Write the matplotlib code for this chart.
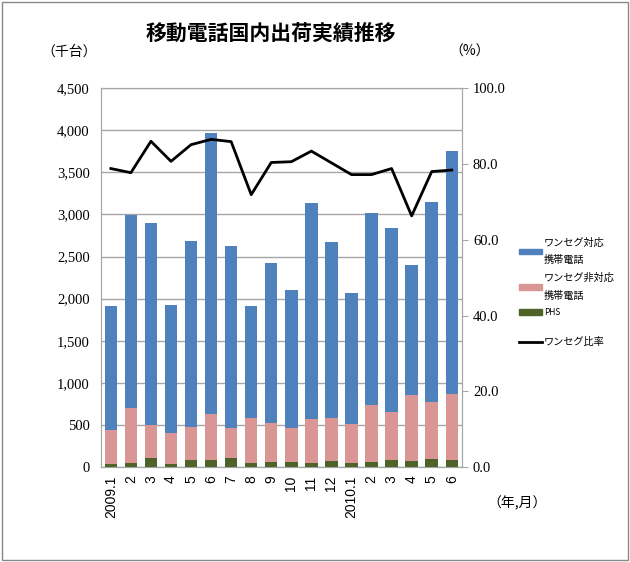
import matplotlib
matplotlib.use("Agg")
import matplotlib.pyplot as plt
from matplotlib.patches import Patch, Rectangle
from matplotlib.lines import Line2D
from matplotlib.ticker import FuncFormatter, MultipleLocator
import numpy as np

plt.rcParams['font.family'] = ['Noto Sans CJK JP', 'DejaVu Sans']

months = ["2009.1", "2", "3", "4", "5", "6", "7", "8", "9", "10", "11", "12",
          "2010.1", "2", "3", "4", "5", "6"]
phs = [40, 51, 107, 40, 79, 87, 107, 51, 59, 59, 51, 67, 51, 59, 79, 67, 95, 79]
non_oneseg = [399, 654, 392, 368, 392, 538, 352, 527, 467, 400, 515, 519, 460, 673, 574, 784, 677, 792]
oneseg = [1477, 2291, 2402, 1516, 2216, 3345, 2169, 1338, 1896, 1639, 2573, 2090, 1559, 2288, 2181, 1551, 2375, 2885]
oneseg_ratio = [78.8, 77.7, 86.0, 80.7, 85.1, 86.5, 85.9, 71.9, 80.4, 80.6, 83.4, 80.3,
                77.2, 77.2, 78.8, 66.3, 78.0, 78.4]

c_blue = "#4F81BD"
c_pink = "#D99694"
c_green = "#4F6228"
c_grid = "#A6A6A6"

fig = plt.figure(figsize=(6.3, 5.62), dpi=100)
ax = fig.add_axes([0.160, 0.169, 0.573, 0.674])
ax2 = ax.twinx()

x = np.arange(len(months))
w = 0.62
b1 = np.array(phs)
b2 = b1 + np.array(non_oneseg)
ax.bar(x, phs, w, color=c_green, zorder=3)
ax.bar(x, non_oneseg, w, bottom=b1, color=c_pink, zorder=3)
ax.bar(x, oneseg, w, bottom=b2, color=c_blue, zorder=3)
ax2.plot(x, oneseg_ratio, color="black", lw=2)

ax.set_xlim(-0.5, len(months) - 0.5)
ax.set_ylim(0, 4500)
ax.yaxis.set_major_locator(MultipleLocator(500))
ax.yaxis.set_major_formatter(FuncFormatter(lambda v, p: f"{int(v):,}"))
ax.grid(axis="y", color=c_grid, lw=1, zorder=0)
ax.set_axisbelow(True)
ax2.set_ylim(0, 100)
ax2.yaxis.set_major_locator(MultipleLocator(20))
ax2.yaxis.set_major_formatter(FuncFormatter(lambda v, p: f"{v:.1f}"))

for a in (ax, ax2):
    for s in a.spines.values():
        s.set_color(c_grid)
ax.tick_params(axis="y", length=0, pad=8, labelsize=10.5)
ax2.tick_params(axis="y", length=4, color=c_grid, pad=4, labelsize=10.5)
for lab in ax.get_yticklabels() + ax2.get_yticklabels():
    lab.set_family(["Liberation Serif"])

ax.set_xticks(x)
ax.set_xticklabels(months, rotation=90, va="top", fontsize=10, family=["Liberation Sans"])
ax.tick_params(axis="x", length=0, pad=6)

fig.text(0.43, 0.94, "移動電話国内出荷実績推移", ha="center", va="center",
         fontsize=15, fontweight="bold")
fig.text(0.11, 0.908, "（千台）", ha="center", va="center", fontsize=10)
fig.text(0.745, 0.908, "（%）", ha="center", va="center", fontsize=10)
fig.text(0.82, 0.105, "（年,月）", ha="center", va="center", fontsize=10)

# bar legend (three entries) and line legend placed separately
bar_handles = [Patch(color=c_blue), Patch(color=c_pink), Patch(color=c_green)]
bar_labels = ["ワンセグ対応\n携帯電話", "ワンセグ非対応\n携帯電話", "PHS"]
leg1 = fig.legend(bar_handles, bar_labels, loc="upper left", bbox_to_anchor=(0.824, 0.578),
                  frameon=False, fontsize=7.3, handlelength=2.3, handleheight=0.5,
                  handletextpad=0.15, labelspacing=0.75, borderaxespad=0, borderpad=0)
for t in leg1.get_texts():
    t.set_linespacing(1.95)
leg1.get_texts()[2].set_fontsize(6)

leg2 = fig.legend([Line2D([], [], color="black", lw=2)], ["ワンセグ比率"], loc="center left",
                  bbox_to_anchor=(0.824, 0.391), frameon=False, fontsize=7.3,
                  handlelength=2.3, handletextpad=0.15, borderaxespad=0, borderpad=0)

fig.patches.append(Rectangle((0.003, 0.003), 0.994, 0.994, transform=fig.transFigure,
                             fill=False, edgecolor="#888888", lw=1))

fig.savefig("out.png", dpi=100)
